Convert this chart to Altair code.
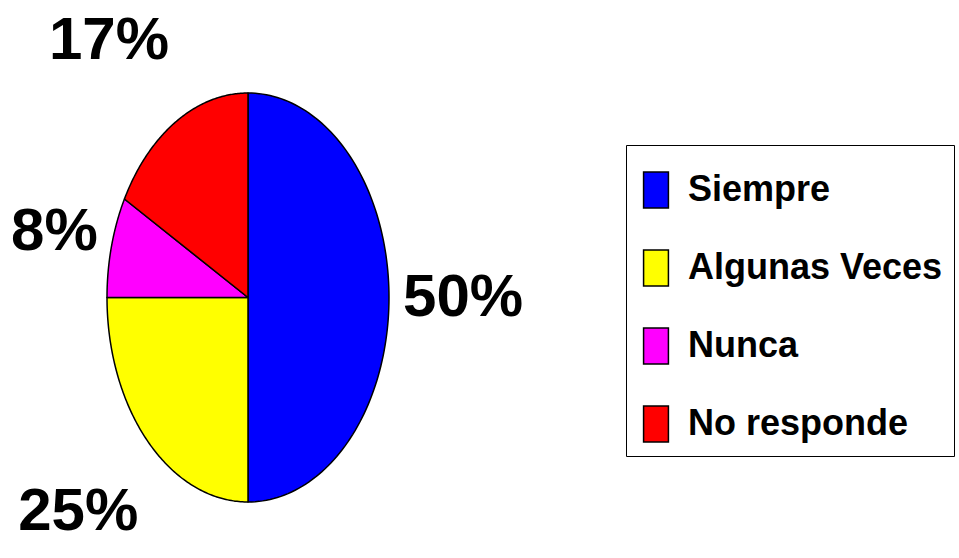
import altair as alt
import pandas as pd

categories = ["Siempre", "Algunas Veces", "Nunca", "No responde"]
values = [50, 25, 8, 17]
labels = ["50%", "25%", "8%", "17%"]
colors = ["#0000FF", "#FFFF00", "#FF00FF", "#FF0000"]

FONT = "Liberation Sans, Arial, sans-serif"
N = 120

df = pd.DataFrame({"cat": categories, "value": values, "label": labels})

xscale = alt.Scale(domain=[-1, 1], range=[107, 389], nice=False, zero=False)
yscale = alt.Scale(domain=[-1, 1], range=[502, 93], nice=False, zero=False)

base = (
    alt.Chart(df)
    .transform_window(cum="sum(value)", frame=[None, 0])
    .transform_joinaggregate(total="sum(value)")
    .transform_calculate(
        a0="2*PI*(datum.cum-datum.value)/datum.total",
        a1="2*PI*datum.cum/datum.total",
    )
)

wedges = (
    base.transform_calculate(k=f"sequence(0, {N + 3})")
    .transform_flatten(["k"])
    .transform_calculate(
        ang=f"datum.a0 + (datum.a1-datum.a0)*(datum.k-1)/{N}",
    )
    .transform_calculate(
        px=f"(datum.k==0 || datum.k=={N + 2}) ? 0 : sin(datum.ang)",
        py=f"(datum.k==0 || datum.k=={N + 2}) ? 0 : cos(datum.ang)",
    )
    .mark_line(stroke="black", strokeWidth=1.5, strokeJoin="round")
    .encode(
        x=alt.X("px:Q", scale=xscale, axis=None),
        y=alt.Y("py:Q", scale=yscale, axis=None),
        fill=alt.Fill(
            "cat:N",
            scale=alt.Scale(domain=categories, range=colors),
            legend=alt.Legend(
                title=" ",
                titleFontSize=4,
                titlePadding=11,
                orient="none",
                legendX=626,
                legendY=145,
                symbolType="M-0.69,-1L0.69,-1L0.69,1L-0.69,1Z",
                symbolSize=1296,
                symbolStrokeColor="black",
                symbolStrokeWidth=1.5,
                symbolOpacity=1,
                labelFont=FONT,
                labelFontSize=36,
                labelFontWeight="bold",
                labelColor="black",
                labelOffset=13,
                labelLimit=500,
                rowPadding=36,
                padding=11,
                strokeColor="black",
                fillColor="white",
            ),
        ),
        detail="cat:N",
        order=alt.Order("k:Q"),
    )
)

texts = (
    base.transform_calculate(mid="(datum.a0+datum.a1)/2")
    .transform_calculate(
        lx="1.1*sin(datum.mid)",
        ly="1.28*cos(datum.mid)",
    )
    .mark_text(
        font=FONT,
        fontSize=60,
        fontWeight="bold",
        color="black",
        align=alt.expr("datum.mid > PI ? 'right' : 'left'"),
        baseline=alt.expr(
            "cos(datum.mid) > 0.7 ? 'bottom' : (cos(datum.mid) < -0.5 ? 'top' : 'middle')"
        ),
    )
    .encode(
        x=alt.X("lx:Q", scale=xscale, axis=None),
        y=alt.Y("ly:Q", scale=yscale, axis=None),
        text="label:N",
    )
)

chart = (
    alt.layer(wedges, texts)
    .properties(width=959, height=558, padding=0, autosize=alt.AutoSizeParams(type="none"), background="white")
    .configure_view(stroke=None)
)

chart.save("out.html", embed_options={"renderer": "svg", "actions": False})
